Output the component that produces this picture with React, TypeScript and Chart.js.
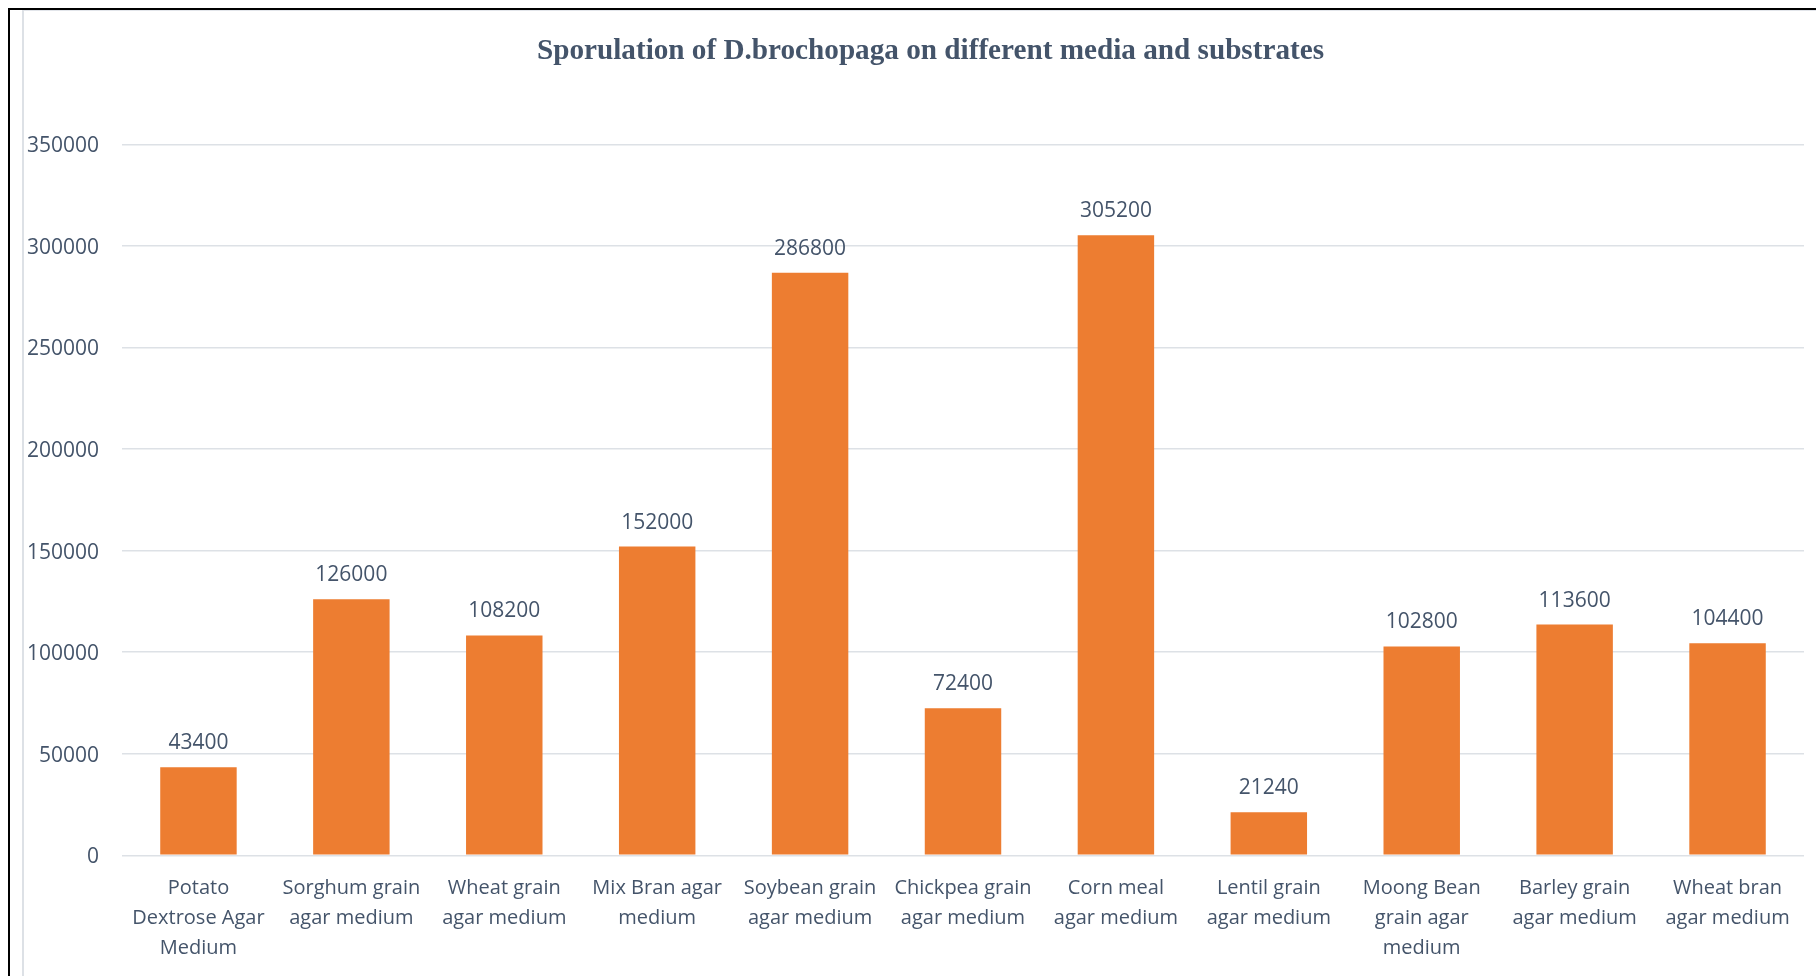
import React, { useEffect, useRef } from "react";
import { Chart, registerables } from "chart.js";

Chart.register(...registerables);

const categories: string[][] = [
  ["Potato", "Dextrose Agar", "Medium"],
  ["Sorghum grain", "agar medium"],
  ["Wheat grain", "agar medium"],
  ["Mix Bran agar", "medium"],
  ["Soybean grain", "agar medium"],
  ["Chickpea grain", "agar medium"],
  ["Corn meal", "agar medium"],
  ["Lentil grain", "agar medium"],
  ["Moong Bean", "grain agar", "medium"],
  ["Barley grain", "agar medium"],
  ["Wheat bran", "agar medium"],
];

const sporulation: number[] = [
  43400, 126000, 108200, 152000, 286800, 72400, 305200, 21240, 102800, 113600, 104400,
];

const yMax = 350000;
const yStep = 50000;

const titleText = "Sporulation of D.brochopaga on different media and substrates";

const TEXT = "#44546A";
const BAR = "#ED7D31";
const GRID = "#dde1e6";
const LABEL_FONT = "21px 'Open Sans'";

// Title, value labels above bars and the value axis labels
const chartText = {
  id: "chartText",
  afterDatasetsDraw(chart: any) {
    const { ctx } = chart;
    const meta = chart.getDatasetMeta(0);
    const data = chart.data.datasets[0].data as number[];
    const yScale = chart.scales.y;
    ctx.save();

    ctx.font = "bold 29.2px 'Liberation Serif', 'Times New Roman', serif";
    ctx.fillStyle = TEXT;
    ctx.textAlign = "center";
    ctx.textBaseline = "middle";
    ctx.fillText(titleText, 930.5, 51);

    ctx.font = LABEL_FONT;
    meta.data.forEach((bar: any, i: number) => {
      ctx.fillText(String(data[i]), bar.x, bar.y - 24);
    });

    ctx.textAlign = "right";
    yScale.ticks.forEach((t: any) => {
      ctx.fillText(String(t.value), yScale.right - 23, yScale.getPixelForValue(t.value) + 2);
    });
    ctx.restore();
  },
};

export default function App() {
  const canvasRef = useRef<HTMLCanvasElement | null>(null);

  useEffect(() => {
    if (!canvasRef.current) return;
    const chart = new Chart(canvasRef.current, {
      type: "bar",
      data: {
        labels: categories,
        datasets: [
          {
            data: sporulation,
            backgroundColor: BAR,
            borderWidth: 0,
            barPercentage: 0.5,
            categoryPercentage: 1,
          },
        ],
      },
      options: {
        responsive: false,
        animation: false,
        devicePixelRatio: 1,
        layout: { padding: { left: 0, right: 12, top: 144.3, bottom: 0 } },
        plugins: {
          legend: { display: false },
          tooltip: { enabled: false },
          title: { display: false },
        },
        scales: {
          x: {
            grid: { display: false, drawTicks: false },
            border: { display: false },
            ticks: {
              color: TEXT,
              font: { family: "'Open Sans'", size: 20, lineHeight: 1.5 },
              padding: 18,
              maxRotation: 0,
              autoSkip: false,
            },
            afterFit(scale: any) {
              scale.height = 120.7;
            },
          },
          y: {
            min: 0,
            max: yMax,
            grid: { color: GRID, lineWidth: 1.5, drawTicks: false },
            border: { display: false },
            ticks: {
              stepSize: yStep,
              display: false,
            },
            afterFit(scale: any) {
              scale.width = 122;
            },
          },
        },
      },
      plugins: [chartText],
    });
    return () => chart.destroy();
  }, []);

  return (
    <div style={{ position: "fixed", left: 0, top: 0, right: 0, bottom: 0, background: "#fff", overflow: "hidden" }}>
      <div style={{ position: "absolute", left: 8, top: 8, right: 0, height: 2, background: "#000" }} />
      <div style={{ position: "absolute", left: 8, top: 8, bottom: 0, width: 2, background: "#000" }} />
      <div style={{ position: "absolute", left: 22, top: 10, right: 0, height: 1, background: "#e2e5ea" }} />
      <div style={{ position: "absolute", left: 22, top: 10, bottom: 0, width: 2, background: "#dde1e6" }} />
      <canvas
        ref={canvasRef}
        width={1816}
        height={976}
        style={{ position: "absolute", left: 0, top: 0, width: 1816, height: 976 }}
      />
    </div>
  );
}
